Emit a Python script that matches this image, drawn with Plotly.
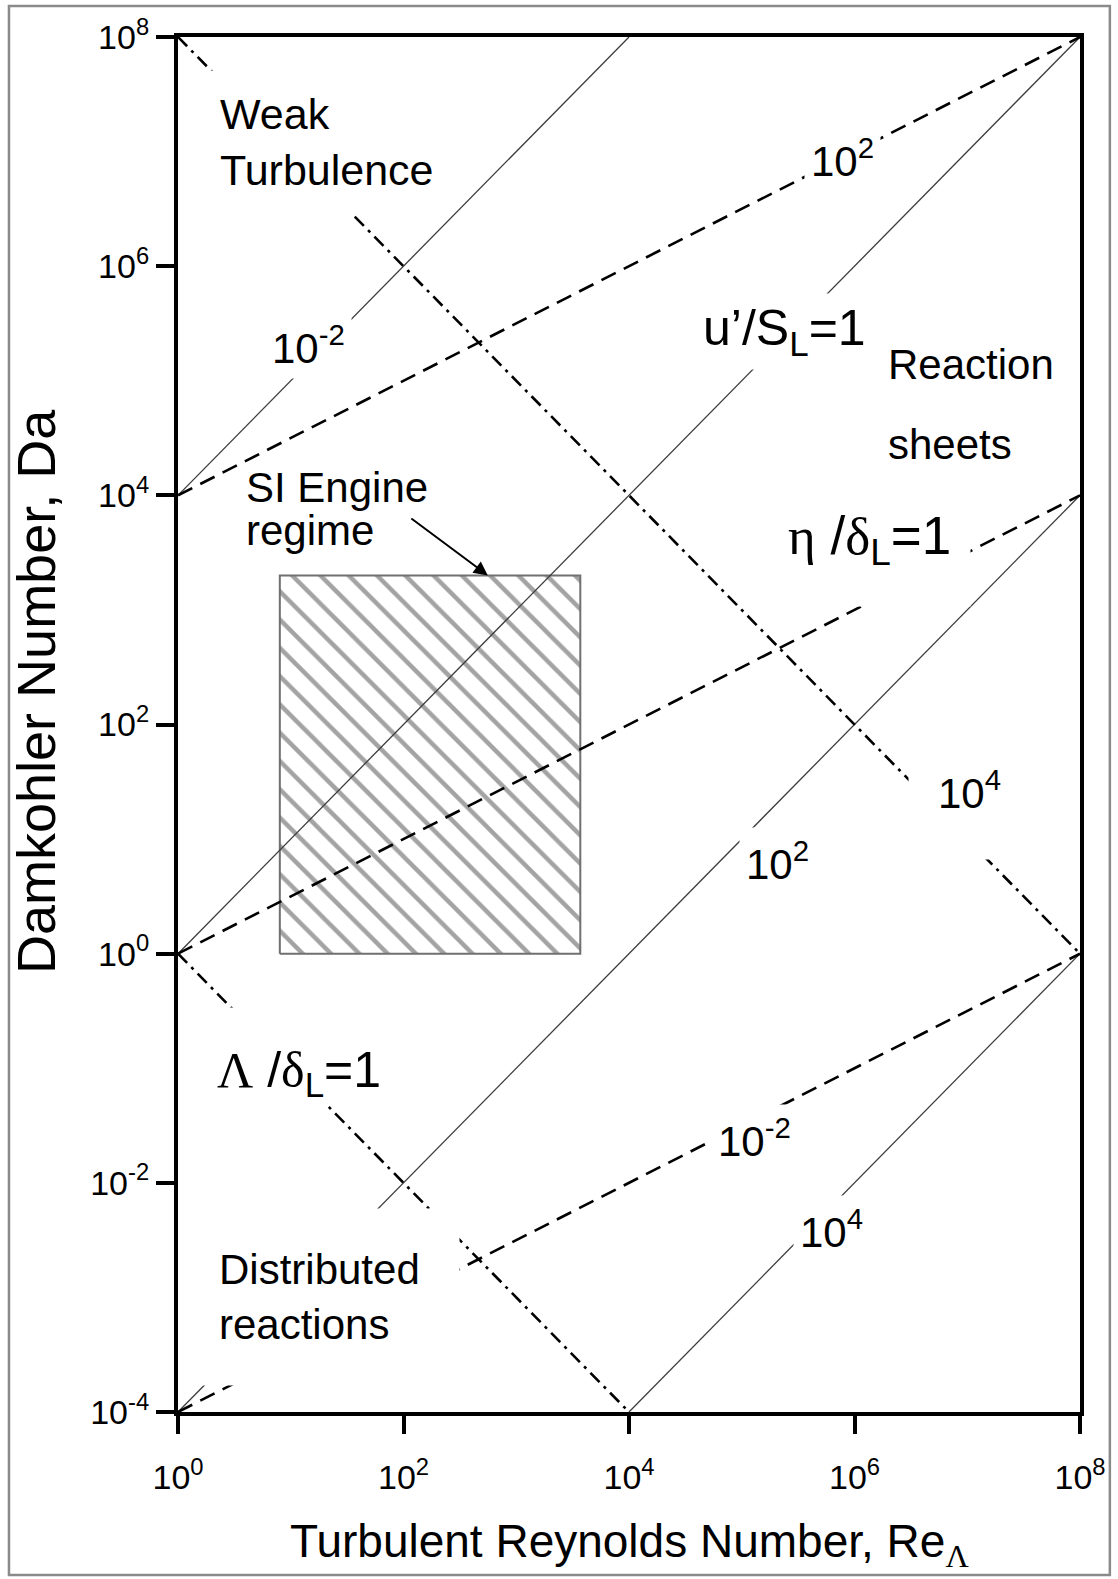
import numpy as np
import plotly.graph_objects as go

# Axis limits of the regime diagram
re_limits = [1e0, 1e8]      # turbulent Reynolds number
da_limits = [1e-4, 1e8]     # Damkohler number

# Iso-lines of the scale ratios
velocity_ratios = [1e-2, 1e0, 1e2, 1e4]   # u'/S_L        : Da = Re / (u'/S_L)^2
kolmogorov_ratios = [1e-2, 1e0, 1e2]      # eta/delta_L   : Da = (eta/delta_L)^2 * Re^(1/2)
integral_ratios = [1e0, 1e4]              # Lambda/delta_L: Da = (Lambda/delta_L)^2 / Re

# Spark-ignition engine operating window
si_engine_re = [8, 3700]
si_engine_da = [1, 2000]

# Tick decades
x_tick_exponents = [0, 2, 4, 6, 8]
y_tick_exponents = [-4, -2, 0, 2, 4, 6, 8]

FONT = "Liberation Sans, Arial, Helvetica, sans-serif"
SERIF = "Liberation Serif, Times New Roman, serif"


def clipped_power_line(coef, power):
    """End points of Da = coef * Re**power inside the plotting box."""
    lx0, lx1 = np.log10(re_limits)
    ly0, ly1 = np.log10(da_limits)
    c = np.log10(coef)
    cand = [lx0, lx1] + [(yb - c) / power for yb in (ly0, ly1)]
    eps = 1e-9
    ok = sorted(x for x in cand
                if lx0 - eps <= x <= lx1 + eps and ly0 - eps <= c + power * x <= ly1 + eps)
    xs = np.array([ok[0], ok[-1]])
    return 10 ** xs, 10 ** (c + power * xs)


fig = go.Figure()

# Hatched SI engine box (drawn first so the iso-lines sit on top)
fig.add_trace(go.Scatter(
    x=[si_engine_re[0], si_engine_re[1], si_engine_re[1], si_engine_re[0], si_engine_re[0]],
    y=[si_engine_da[0], si_engine_da[0], si_engine_da[1], si_engine_da[1], si_engine_da[0]],
    mode="lines", fill="toself", fillcolor="white",
    fillpattern=dict(shape="\\", fgcolor="#474747", bgcolor="white", size=20, solidity=0.22),
    line=dict(color="#707070", width=2), hoverinfo="skip", showlegend=False))

# u'/S_L = const (thin solid)
for r in velocity_ratios:
    x, y = clipped_power_line(1.0 / r ** 2, 1.0)
    fig.add_trace(go.Scatter(x=x, y=y, mode="lines", showlegend=False,
                             line=dict(color="#3c3c3c", width=1.3)))

# eta/delta_L = const (dashed)
for r in kolmogorov_ratios:
    x, y = clipped_power_line(r ** 2, 0.5)
    fig.add_trace(go.Scatter(x=x, y=y, mode="lines", showlegend=False,
                             line=dict(color="black", width=2.6, dash="16px,9px")))

# Lambda/delta_L = const (dash-dot)
for r in integral_ratios:
    x, y = clipped_power_line(r ** 2, -1.0)
    fig.add_trace(go.Scatter(x=x, y=y, mode="lines", showlegend=False,
                             line=dict(color="black", width=2.6, dash="13px,6px,3px,6px")))


def label(text, lx, ly, size=42, pad=6, xanchor="center", yanchor="middle",
          align="center", valign="middle", width=None, height=None, bg="white"):
    fig.add_annotation(x=lx, y=ly, xref="x", yref="y", text=text, showarrow=False,
                       xanchor=xanchor, yanchor=yanchor, align=align, valign=valign,
                       width=width, height=height,
                       bgcolor=bg, borderpad=pad,
                       font=dict(family=FONT, size=size, color="black"))


def greek(ch):
    return f'<span style="font-family:{SERIF}">{ch}</span>'


# Regime names
label("Weak<br>Turbulence", 0.194, 7.084, size=43, pad=19, xanchor="left", align="left")
label("Reaction", 6.287, 5.144, size=42, pad=0, xanchor="left", bg=None)
label("sheets", 6.287, 4.441, size=42, pad=0, xanchor="left", bg=None)
label("Distributed<br>reactions", 0.203, -2.995, size=42, pad=17, xanchor="left",
      align="left", width=223, height=142)
label("SI Engine", 0.593, 4.07, size=42, pad=0, xanchor="left", bg=None)
label("regime", 0.593, 3.69, size=42, pad=0, xanchor="left", bg=None)

# Iso-line labels
label("10<sup>-2</sup>", 1.155, 5.31)
label("10<sup>2</sup>", 5.89, 6.94)
label("u’/S<sub>L</sub>=1", 5.38, 5.43, size=50)
label(greek("η") + " /" + greek("δ") + "<sub>L</sub>=1", 5.40, 3.916, size=53, pad=0,
      xanchor="left", yanchor="top", align="left", valign="top", width=182, height=100)
label("10<sup>2</sup>", 5.32, 0.81)
label("10<sup>4</sup>", 6.473, 1.676, pad=0, xanchor="left", yanchor="top",
      align="right", valign="top", width=92, height=96)
label("10<sup>-2</sup>", 5.11, -1.61)
label("10<sup>4</sup>", 5.80, -2.40)
label(greek("Λ") + " /" + greek("δ") + "<sub>L</sub>=1", 0.335, -0.464, size=50, pad=0,
      xanchor="left", yanchor="top", align="left", valign="bottom", width=180, height=96)

# Arrow pointing at the SI engine box
fig.add_annotation(x=np.log10(560), y=np.log10(si_engine_da[1]), xref="x", yref="y",
                   text="", showarrow=True, arrowhead=2, arrowsize=1.4, arrowwidth=2,
                   arrowcolor="black", ax=-78, ay=-58)

# Axis titles
fig.add_annotation(x=0.5, y=-0.096, xref="paper", yref="paper", showarrow=False,
                   xanchor="center", yanchor="middle",
                   text="Turbulent Reynolds Number, Re<sub>" + greek("Λ") + "</sub>",
                   font=dict(family=FONT, size=46, color="black"))
fig.add_annotation(x=-0.158, y=0.524, xref="paper", yref="paper", showarrow=False,
                   xanchor="center", yanchor="middle", textangle=-90,
                   text="Damkohler Number, Da",
                   font=dict(family=FONT, size=54, color="black"))

# Outer frame
fig.add_shape(type="rect", xref="paper", yref="paper",
              x0=-0.1874, x1=1.0331, y0=-0.1185, y1=1.0225,
              line=dict(color="#8a8a8a", width=2.5), layer="below")

axis_common = dict(type="log", showgrid=False, zeroline=False, showline=True,
                   linewidth=4, linecolor="black", mirror=True,
                   ticks="outside", ticklen=18, tickwidth=4, tickcolor="black",
                   tickfont=dict(family=FONT, size=34, color="black"))

fig.update_xaxes(range=[0, 8], tickvals=[10.0 ** e for e in x_tick_exponents],
                 ticktext=[f"10<sup>{e}</sup>" for e in x_tick_exponents],
                 ticklabelstandoff=14, **axis_common)
fig.update_yaxes(range=[-4, 8], tickvals=[10.0 ** e for e in y_tick_exponents],
                 ticktext=[f"10<sup>{e}</sup>" for e in y_tick_exponents], **axis_common)

fig.update_layout(width=1118, height=1579,
                  margin=dict(l=178, r=33, t=37, b=167),
                  paper_bgcolor="white", plot_bgcolor="white",
                  font=dict(family=FONT, color="black"))

fig.write_html("out.html")
